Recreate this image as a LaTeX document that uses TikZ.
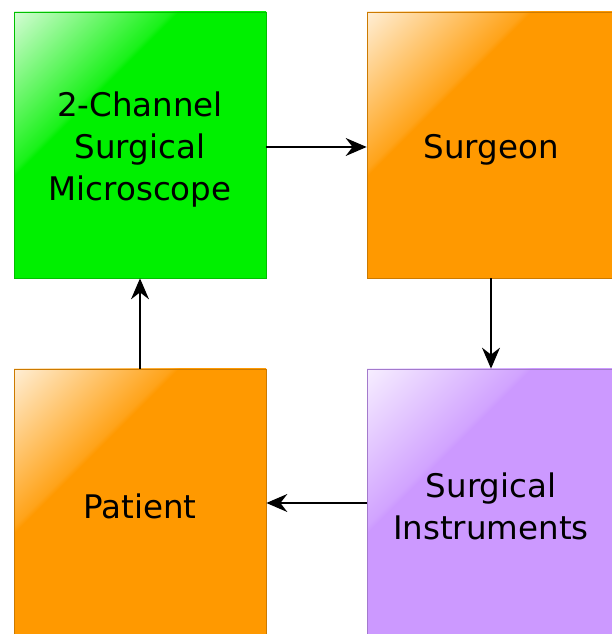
\documentclass[tikz,border=0pt]{standalone}
\usepackage{fontspec}
\setmainfont{DejaVu Sans}
\usetikzlibrary{arrows.meta}
\definecolor{cgreen}{RGB}{0,240,0}
\definecolor{corange}{RGB}{255,153,0}
\definecolor{cpurple}{RGB}{204,153,255}
\colorlet{glosscol}{corange}
\colorlet{glossmid}{corange}
\colorlet{glosspale}{corange}
\pgfdeclareverticalshading[glosscol,glossmid,glosspale]{gloss}{100bp}{%
  color(0bp)=(glosscol); color(63bp)=(glosscol); color(64bp)=(glossmid);
  color(86bp)=(glosspale); color(100bp)=(glosspale)}
\tikzset{
  blockbox/.style={rectangle, minimum width=252pt, minimum height=266pt, inner sep=0pt,
    line width=0.7pt, draw=#1!80!black,
    /utils/exec={\colorlet{glosscol}{#1}\colorlet{glossmid}{#1!90!white}\colorlet{glosspale}{#1!15!white}},
    shading=gloss, shading angle=45},
  blocktext/.style={align=center, font=\fontsize{32.5}{42}\selectfont, text=black, yshift=-4.5pt},
  conn/.style={line width=1.6pt, -{Stealth[length=21pt,width=18pt,inset=7pt]}}
}
\begin{document}
\begin{tikzpicture}[x=1pt,y=1pt]
\useasboundingbox (0,0) rectangle (612,634);
\clip (0,0) rectangle (612,634);
\node[blockbox=cgreen] (micro) at (140,489) {};
\node[blockbox=corange] (surgeon) at (493,489) {};
\node[blockbox=cpurple] (instr) at (493,132) {};
\node[blockbox=corange] (patient) at (140,132) {};
\node[blocktext] (microt) at (micro.center) {2-Channel\\Surgical\\Microscope};
\node[blocktext] (surgeont) at (491,489) {Surgeon};
\node[blocktext] (instrt) at (491,132) {Surgical\\Instruments};
\node[blocktext] (patientt) at (patient.center) {Patient};
\draw[conn] (micro.east |- 0,487) -- (surgeon.west |- 0,487);
\draw[conn] (surgeon.south -| 491,0) -- (instr.north -| 491,0);
\draw[conn] (instr.west |- 0,131) -- (patient.east |- 0,131);
\draw[conn] (patient.north) -- (micro.south);
\end{tikzpicture}
\end{document}
